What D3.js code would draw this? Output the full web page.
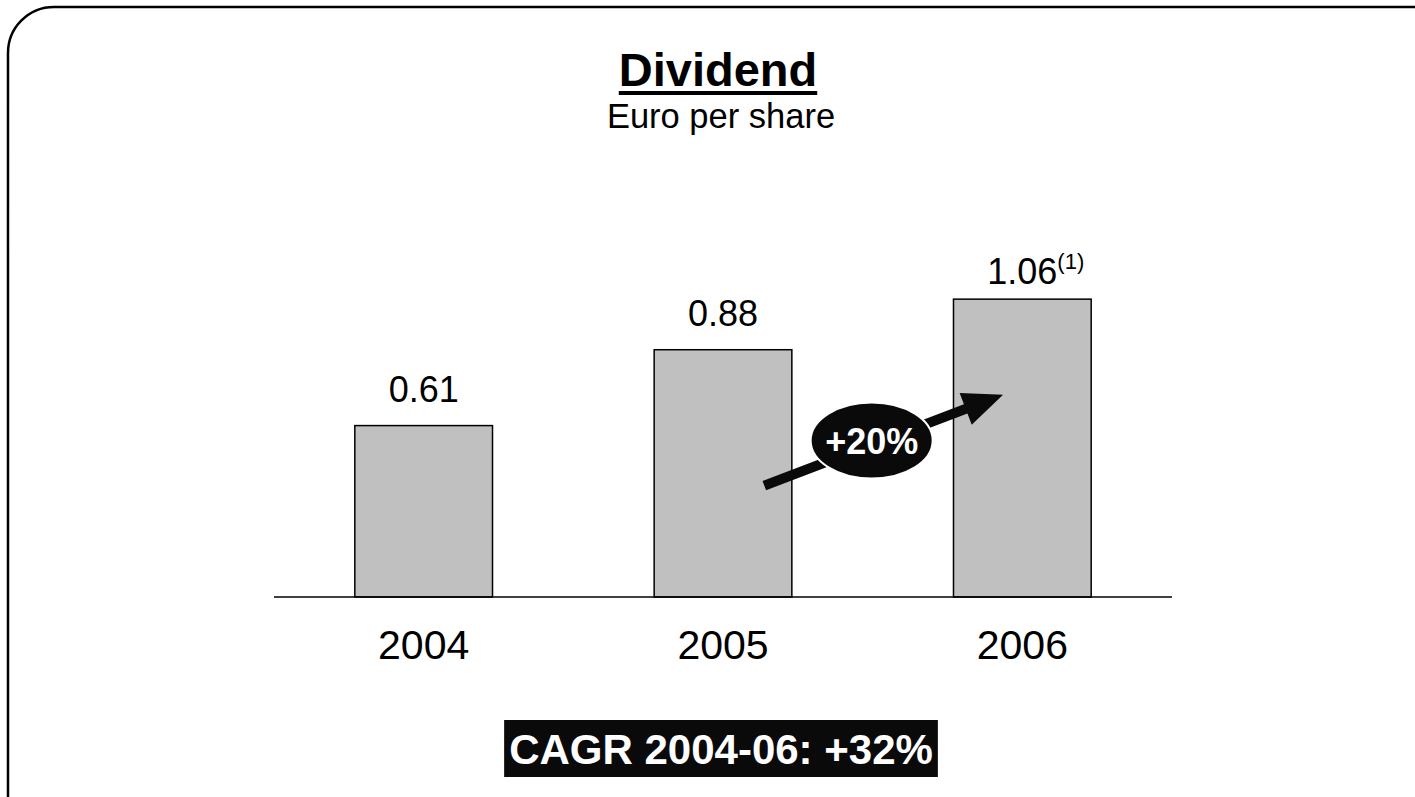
<!DOCTYPE html>
<html><head><meta charset="utf-8">
<script src="https://d3js.org/d3.v7.min.js"></script>
<style>body{margin:0;background:#fff}svg{display:block;font-family:"Liberation Sans",Arial,sans-serif}</style>
</head><body>
<script>
const years = ["2004", "2005", "2006"];
const dividends = [0.61, 0.88, 1.06];
const valueLabels = ["0.61", "0.88", "1.06"];
const footnotes = ["", "", "(1)"];
const growthLabel = "+20%";
const cagrLabel = "CAGR 2004-06: +32%";
const title = "Dividend";
const subtitle = "Euro per share";

const W = 1415, H = 797;
const svg = d3.select("body").append("svg").attr("width", W).attr("height", H);

// frame
svg.append("rect").attr("x", 8).attr("y", 7).attr("width", W + 40).attr("height", H + 40)
  .attr("rx", 46).attr("ry", 46).attr("fill", "none").attr("stroke", "#000").attr("stroke-width", 2.5);

const x = d3.scaleBand().domain(years).range([274, 1172]).paddingInner(0.54).paddingOuter(0.27);
const y = d3.scaleLinear().domain([0, 1]).range([597, 316]);

// title
const t = svg.append("text").attr("x", 718).attr("y", 86).attr("text-anchor", "middle")
  .attr("font-size", 47).attr("font-weight", "bold").attr("fill", "#000").text(title);
svg.append("text").attr("x", 721).attr("y", 128).attr("text-anchor", "middle")
  .attr("font-size", 34.5).attr("fill", "#000").text(subtitle);
const tb = t.node().getBBox();
svg.append("line").attr("x1", tb.x).attr("x2", tb.x + tb.width).attr("y1", 93).attr("y2", 93)
  .attr("stroke", "#000").attr("stroke-width", 4);

// bars
svg.selectAll("rect.bar").data(years).join("rect").attr("class", "bar")
  .attr("x", d => x(d)).attr("width", x.bandwidth())
  .attr("y", (d, i) => y(dividends[i])).attr("height", (d, i) => y(0) - y(dividends[i]))
  .attr("fill", "#c0c0c0").attr("stroke", "#000").attr("stroke-width", 1.5);

// baseline axis
const axis = d3.axisBottom(x).tickSize(0).tickPadding(33);
const ag = svg.append("g").attr("transform", `translate(0,${y(0)})`).call(axis);
ag.select(".domain").attr("d", `M274,0H1172`).attr("stroke", "#000").attr("stroke-width", 1.5);
ag.selectAll("text").attr("font-size", 41).attr("fill", "#000")
  .attr("font-family", "'Liberation Sans',Arial,sans-serif");

// value labels
years.forEach((yr, i) => {
  const gap = footnotes[i] ? 15 : 24;
  const txt = svg.append("text").attr("x", x(yr) + x.bandwidth() / 2).attr("y", y(dividends[i]) - gap)
    .attr("text-anchor", "middle").attr("font-size", 36).attr("fill", "#000");
  txt.append("tspan").text(valueLabels[i]);
  if (footnotes[i]) {
    const sup = txt.append("tspan").attr("font-size", 22).attr("dy", -15).text(footnotes[i]);
    txt.attr("x", x(yr) + x.bandwidth() / 2 + sup.node().getComputedTextLength() / 2);
  }
});

// growth arrow from 2005 bar to 2006 bar
const x0 = x("2005") + x.bandwidth() * 0.8, y0 = y(dividends[0]) + 60;
const x1 = x("2006") + x.bandwidth() * 0.36, y1 = y(dividends[1]) + 45;
const ang = Math.atan2(y1 - y0, x1 - x0);
const len = Math.hypot(x1 - x0, y1 - y0);
const sw = 5, hw = 17, hl = 40;
const ag2 = svg.append("g").attr("transform", `translate(${x0},${y0}) rotate(${ang * 180 / Math.PI})`);
ag2.append("path").attr("d", `M0,${-sw}L${len - hl},${-sw}L${len - hl},${-hw}L${len},0L${len - hl},${hw}L${len - hl},${sw}L0,${sw}Z`)
  .attr("fill", "#0a0a0a");
const cx = (x("2005") + x.bandwidth() + x("2006")) / 2 - 1, cy = y(dividends[0]) + 15;
svg.append("ellipse").attr("cx", cx).attr("cy", cy).attr("rx", 61).attr("ry", 38)
  .attr("fill", "#0a0a0a").attr("stroke", "#fff").attr("stroke-width", 2);
svg.append("text").attr("x", cx).attr("y", cy + 13).attr("text-anchor", "middle")
  .attr("font-size", 36).attr("font-weight", "bold").attr("fill", "#fff").text(growthLabel);

// CAGR box
const cg = svg.append("g");
const ct = cg.append("text").attr("x", 721).attr("y", 764).attr("text-anchor", "middle")
  .attr("font-size", 42).attr("font-weight", "bold").attr("fill", "#fff").text(cagrLabel);
const cb = ct.node().getBBox();
cg.insert("rect", "text").attr("x", cb.x - 5).attr("y", 720).attr("width", cb.width + 10).attr("height", 57)
  .attr("fill", "#0a0a0a");
</script>
</body></html>
